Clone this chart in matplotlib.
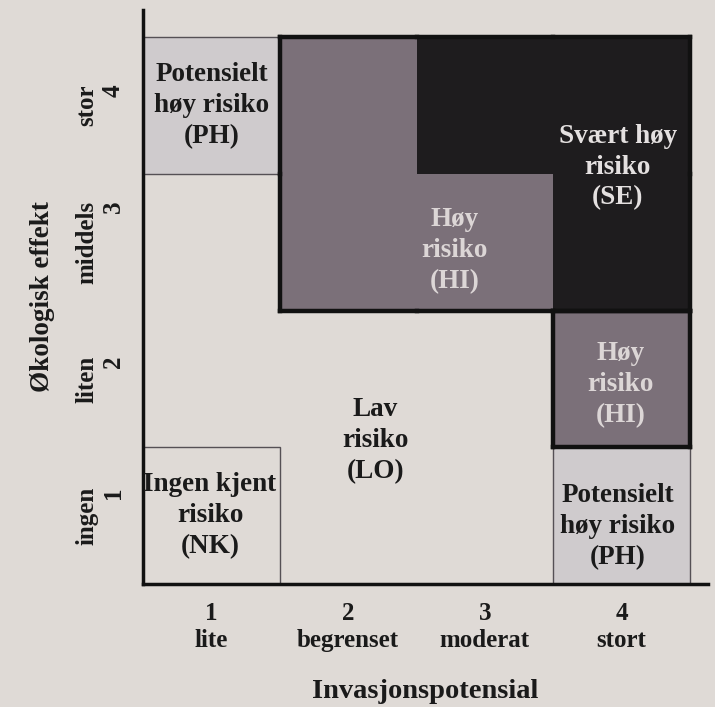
import matplotlib.pyplot as plt
from matplotlib.patches import Rectangle

plt.rcParams['font.family'] = ['Liberation Serif', 'DejaVu Serif']
plt.rcParams['font.weight'] = 'bold'

inv_ticks = [1, 2, 3, 4]
inv_labels = ['lite', 'begrenset', 'moderat', 'stort']
eff_ticks = [1, 2, 3, 4]
eff_labels = ['ingen', 'liten', 'middels', 'stor']

# risk category for each cell, rows = effekt 1..4, cols = invasjon 1..4
risk = [['NK', 'LO', 'LO', 'PH'],
        ['LO', 'LO', 'LO', 'HI'],
        ['LO', 'HI', 'HI', 'SE'],
        ['PH', 'HI', 'SE', 'SE']]

names = {'NK': 'Ingen kjent\nrisiko\n(NK)',
         'LO': 'Lav\nrisiko\n(LO)',
         'PH': 'Potensielt\nhøy risiko\n(PH)',
         'HI': 'Høy\nrisiko\n(HI)',
         'SE': 'Svært høy\nrisiko\n(SE)'}

# label positions (invasjon, effekt) for each labelled area
label_pos = [('PH', 1.0, 4.0), ('HI', 2.78, 2.94), ('SE', 3.97, 3.55),
             ('HI', 3.99, 1.96), ('PH', 3.97, 0.92), ('LO', 2.2, 1.55),
             ('NK', 0.99, 1.0)]

# groups of cells framed with a thick outline
framed = [[(2, 3), (2, 4), (3, 3), (3, 4), (4, 4), (4, 3)], [(4, 2)]]

fill = {'NK': 'none', 'LO': 'none', 'PH': '#cfcbcd', 'HI': '#7b7079', 'SE': '#1e1c1e'}
txtcol = {'NK': '#1a1a1a', 'LO': '#1a1a1a', 'PH': '#1a1a1a', 'HI': '#dcd6d6', 'SE': '#e4e0e0'}
bg = '#dfdad6'

fig = plt.figure(figsize=(7.15, 7.07), dpi=100, facecolor=bg)
ax = fig.add_axes([0.2, 0.174, 0.79, 0.812], facecolor=bg)

for r in range(4):
    for c in range(4):
        code = risk[r][c]
        if code in ('PH', 'NK'):
            ax.add_patch(Rectangle((c + 0.5, r + 0.5), 1, 1, facecolor=fill[code],
                                   edgecolor='#555055', lw=1.0, zorder=2))
        elif code in ('HI', 'SE'):
            ax.add_patch(Rectangle((c + 0.5, r + 0.5), 1, 1, facecolor=fill[code],
                                   edgecolor='none', zorder=2))

# thick outlines around groups
for group in framed:
    s = set(group)
    for (x, y) in group:
        for dx, dy in [(1, 0), (-1, 0), (0, 1), (0, -1)]:
            if (x + dx, y + dy) in s:
                continue
            if dx != 0:
                xs = [x + dx * 0.5] * 2
                ys = [y - 0.5, y + 0.5]
            else:
                xs = [x - 0.5, x + 0.5]
                ys = [y + dy * 0.5] * 2
            ax.plot(xs, ys, color='#111111', lw=3.2, solid_capstyle='projecting', zorder=4)

for code, x, y in label_pos:
    ax.text(x, y, names[code], ha='center', va='center', fontsize=19.5,
            fontweight='bold', color=txtcol[code], linespacing=1.3, zorder=5)

ax.set_xlim(0.5, 4.63)
ax.set_ylim(0.5, 4.70)
ax.set_xticks(inv_ticks)
ax.set_xticklabels([f'{t}\n{l}' for t, l in zip(inv_ticks, inv_labels)],
                   fontsize=18, fontweight='bold', linespacing=1.2)
ax.set_yticks(eff_ticks)
ax.set_yticklabels([f'{l}\n{t}' for t, l in zip(eff_ticks, eff_labels)],
                   fontsize=18, fontweight='bold', rotation=90, va='center',
                   linespacing=1.2)
ax.tick_params(length=0, pad=13, colors='#1a1a1a')

for side in ('top', 'right'):
    ax.spines[side].set_visible(False)
for side in ('left', 'bottom'):
    ax.spines[side].set_linewidth(2.5)
    ax.spines[side].set_color('#111111')

ax.set_xlabel('Invasjonspotensial', fontsize=20.5, fontweight='bold', color='#1a1a1a', labelpad=20)
ax.set_ylabel('Økologisk effekt', fontsize=19.5, fontweight='bold', color='#1a1a1a', labelpad=10)
ax.yaxis.set_label_coords(-0.155, 0.5)

fig.savefig('out.png', dpi=100, facecolor=bg)
